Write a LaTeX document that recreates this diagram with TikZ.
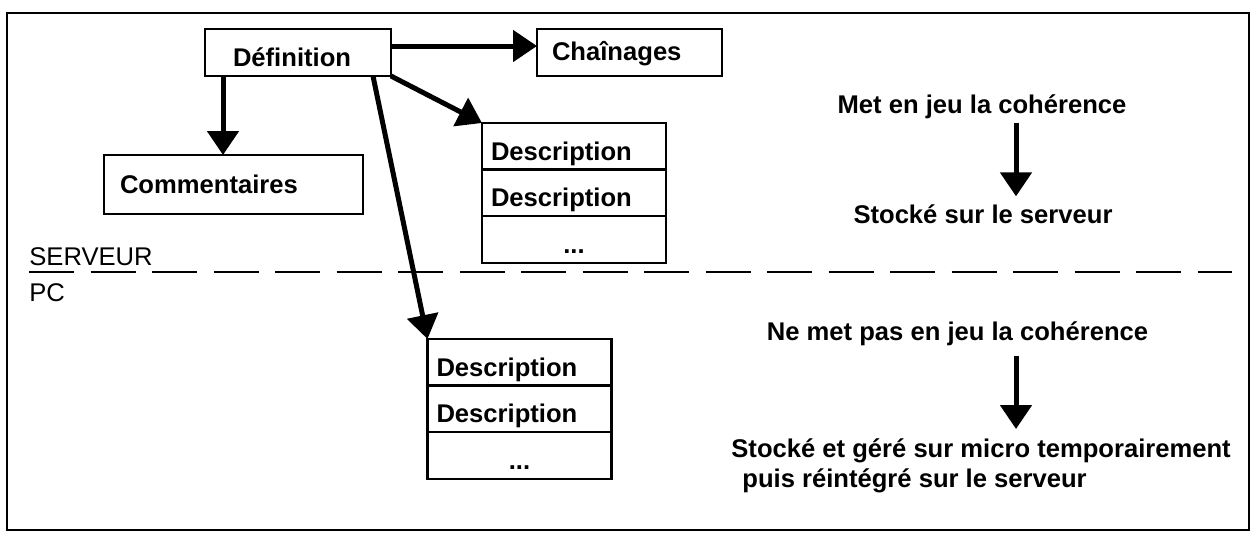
\documentclass[tikz,border=0pt]{standalone}
\usepackage{fontspec}
\setmainfont{Liberation Sans}
\usetikzlibrary{positioning,arrows.meta,calc}

\begin{document}
\begin{tikzpicture}[x=0.5pt,y=-0.5pt,
		boite/.style={draw,line width=1.2pt,outer sep=0pt,inner ysep=0pt,align=left,text depth=1pt,font=\fontsize{12.8}{15}\selectfont\bfseries},
		ligne/.style={boite,minimum height=23.3pt,text width=83pt,inner xsep=4.5pt,text height=15pt},
		texte/.style={inner sep=0pt,font=\fontsize{12.8}{15}\selectfont\bfseries},
		fleche/.style={-{Triangle[length=12pt,width=15.5pt]},line width=2.5pt}]
		\useasboundingbox (0,0) rectangle (1251,532);
		\draw[line width=1pt] (7,13) rectangle (1249,530);
		%
		\node[boite,text width=65pt,inner xsep=14pt,minimum height=23.5pt,text height=14.5pt] (def) at (298,52.5) {Définition};
		\node[boite,text width=77.5pt,inner xsep=7.5pt,minimum height=23.5pt,text height=8.5pt,right=73pt of def] (chain) {Chaînages};
		\node[boite,text width=113.5pt,inner xsep=8pt,minimum height=29.5pt,text height=9.5pt] (comm) at (233.5,184.5) {Commentaires};
		%
		\node[ligne] (d1a) at (574,146.3) {Description};
		\node[ligne,below=0pt of d1a] (d1b) {Description};
		\node[ligne,align=center,below=0pt of d1b] (d1c) {...};
		%
		\node[ligne] (d2a) at (519.5,362.3) {Description};
		\node[ligne,below=0pt of d2a] (d2b) {Description};
		\node[ligne,align=center,below=0pt of d2b] (d2c) {...};
		%
		\draw[fleche] ([yshift=3.25pt]def.east) -- ([yshift=3.25pt]chain.west);
		\draw[fleche] ([xshift=9pt]def.south west) -- ([xshift=9pt]def.south west |- comm.north);
		\draw[fleche] (def.south east) -- (d1a.north west);
		\draw[fleche] ([xshift=-9pt]def.south east) -- (d2a.north west);
		%
		\node[anchor=base west,inner sep=0pt,font=\fontsize{12.8}{15}\selectfont] (serveur) at (29,265) {SERVEUR};
		\node[anchor=base west,inner sep=0pt,font=\fontsize{12.8}{15}\selectfont] (pc) at (29,301) {PC};
		\coordinate (sepG) at (29,272);
		\coordinate (sepD) at (1232,272);
		\draw[line width=0.6pt,dash pattern=on 22.5pt off 8.25pt] (sepG) -- (sepD);
		%
		\node[texte,anchor=base] (coh1) at (982,113) {Met en jeu la cohérence};
		\node[texte,anchor=base] (sto1) at (983,223) {Stocké sur le serveur};
		\draw[fleche,shorten <=2pt,shorten >=3.75pt] ([xshift=17pt]coh1.south) -- ([xshift=17pt]coh1.south |- sto1.north);
		%
		\node[texte,anchor=base] (coh2) at (957.5,340) {Ne met pas en jeu la cohérence};
		\node[texte,anchor=north west,align=left] (sto2) at (731,438) {Stocké et géré sur micro temporairement\\\hspace*{5.5pt}puis réintégré sur le serveur};
		\draw[fleche,shorten <=5pt,shorten >=4.5pt] ([xshift=29.25pt]coh2.south) -- ([xshift=29.25pt]coh2.south |- sto2.north);
	\end{tikzpicture}
\end{document}
